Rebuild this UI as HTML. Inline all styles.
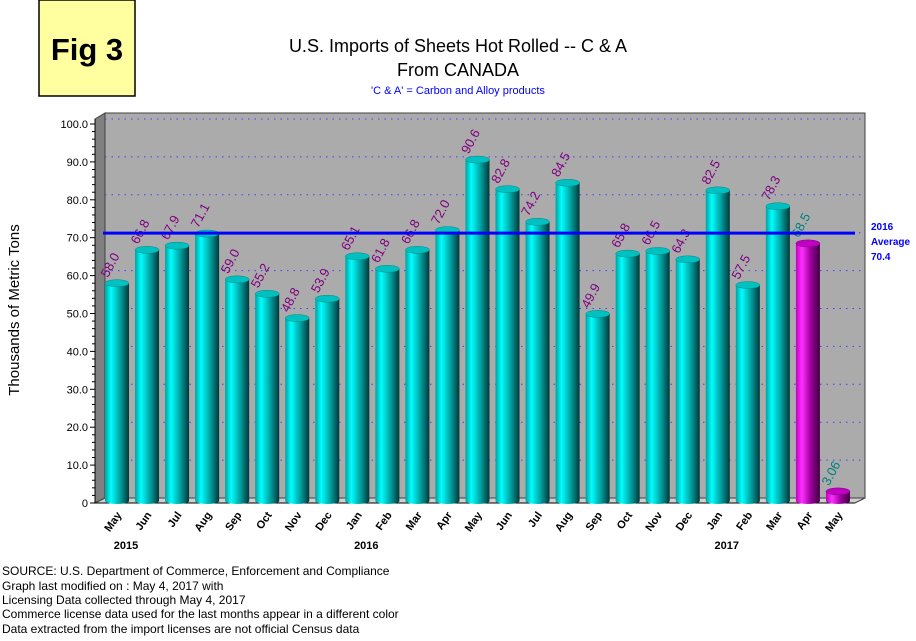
<!DOCTYPE html>
<html><head><meta charset="utf-8"><style>
body{margin:0;background:#fff;width:916px;height:636px;overflow:hidden;font-family:"Liberation Sans",sans-serif}
</style></head><body>
<svg width="916" height="636" xmlns="http://www.w3.org/2000/svg">
<defs>
<linearGradient id="teal" x1="0" x2="1"><stop offset="0" stop-color="#00a0a0"/><stop offset="0.25" stop-color="#00ffff"/><stop offset="0.6" stop-color="#00a8a8"/><stop offset="1" stop-color="#003838"/></linearGradient>
<linearGradient id="mag" x1="0" x2="1"><stop offset="0" stop-color="#c000c0"/><stop offset="0.25" stop-color="#ff30ff"/><stop offset="0.6" stop-color="#a000a0"/><stop offset="1" stop-color="#400040"/></linearGradient>
</defs>
<rect x="39" y="0" width="96" height="96" fill="#ffffa0" stroke="#000" stroke-width="1.5"/>
<text x="87" y="60" font-size="31" font-weight="bold" text-anchor="middle">Fig 3</text>
<text x="458" y="52" font-size="18" text-anchor="middle">U.S. Imports of Sheets Hot Rolled -- C &amp; A</text>
<text x="458" y="76" font-size="18" text-anchor="middle">From CANADA</text>
<text x="458" y="94" font-size="11" fill="#0000ff" text-anchor="middle">'C &amp; A' = Carbon and Alloy products</text>
<text transform="translate(19,310) rotate(-90)" font-size="15" text-anchor="middle">Thousands of Metric Tons</text>
<g id="plot"></g>
<g font-size="12">
<text x="2" y="575">SOURCE: U.S. Department of Commerce, Enforcement and Compliance</text>
<text x="2" y="590">Graph last modified on : May 4, 2017        with</text>
<text x="2" y="604">Licensing Data collected through May 4, 2017</text>
<text x="2" y="618">Commerce license data used for the last months appear in a different color</text>
<text x="2" y="633">Data extracted from the import licenses are not official Census data</text>
</g>
</svg>
<script>
const months=["May","Jun","Jul","Aug","Sep","Oct","Nov","Dec","Jan","Feb","Mar","Apr","May","Jun","Jul","Aug","Sep","Oct","Nov","Dec","Jan","Feb","Mar","Apr","May"];
const values=[58.0,66.8,67.9,71.1,59.0,55.2,48.8,53.9,65.1,61.8,66.8,72.0,90.6,82.8,74.2,84.5,49.9,65.8,66.5,64.3,82.5,57.5,78.3,68.5,3.06];
const valueLabels=["58.0","66.8","67.9","71.1","59.0","55.2","48.8","53.9","65.1","61.8","66.8","72.0","90.6","82.8","74.2","84.5","49.9","65.8","66.5","64.3","82.5","57.5","78.3","68.5","3.06"];
const licenseFlag=[0,0,0,0,0,0,0,0,0,0,0,0,0,0,0,0,0,0,0,0,0,0,0,1,1];
const yTicks=[0,10,20,30,40,50,60,70,80,90,100];
const yTickLabels=["0","10.0","20.0","30.0","40.0","50.0","60.0","70.0","80.0","90.0","100.0"];
const years=[{i:0,t:"2015"},{i:8,t:"2016"},{i:20,t:"2017"}];
const average=70.4;

const NS="http://www.w3.org/2000/svg";
const g=document.getElementById('plot');
const X0=95,Y0=503,PXU=3.79,DX=10,DY=-5,XR=855;
const y=v=>Y0-v*PXU;
const xc=i=>117+i*30.04;
function mk(t,a,p){const e=document.createElementNS(NS,t);for(const k in a)e.setAttribute(k,a[k]);(p||g).appendChild(e);return e;}
let w=mk('polygon',{points:`${X0},${Y0} ${X0+DX},${Y0+DY} ${X0+DX},${y(100)+DY-6} ${X0},${y(100)-6+1}`,fill:'#808080',stroke:'#404040'});


w=mk('rect',{x:X0+DX,y:y(100)+DY-6,width:XR-X0,height:Y0+DY-(y(100)+DY-6),fill:'#ababab',stroke:'#404040'});


w=mk('polygon',{points:`${X0},${Y0} ${X0+DX},${Y0+DY} ${XR+DX},${Y0+DY} ${XR},${Y0}`,fill:'#d0d0d0',stroke:'#404040'});


yTicks.forEach((v,k)=>{
  if(v>0){const l=mk('line',{x1:X0+DX,x2:XR+DX,y1:y(v)+DY,y2:y(v)+DY,stroke:'#4040ff','stroke-dasharray':'1.5 5'});
  
  }
  const tl=mk('line',{x1:X0-5,x2:X0,y1:y(v),y2:y(v),stroke:'#000'});
  
  
  const t=mk('text',{x:X0-7,y:y(v)+4,'font-size':11,'text-anchor':'end'});t.textContent=yTickLabels[k];
  
  
  if(v<100)for(let m=1;m<5;m++){mk('line',{x1:X0-3,x2:X0,y1:y(v+m*2),y2:y(v+m*2),stroke:'#000'});}
});
mk('line',{x1:X0,x2:X0,y1:Y0,y2:y(100)-5,stroke:'#000'});
mk('line',{x1:X0,x2:XR,y1:Y0,y2:Y0,stroke:'#000'});
const bw=24;
values.forEach((v,i)=>{
  const cx=xc(i),top=y(v),bg=document.createElementNS(NS,'g');g.appendChild(bg);
  
  
  const fill=licenseFlag[i]?'url(#mag)':'url(#teal)';
  mk('rect',{x:cx-bw/2,y:top,width:bw,height:Y0-2-top,fill},bg);
  mk('ellipse',{cx,cy:Y0-2,rx:bw/2,ry:3,fill},bg);
  mk('ellipse',{cx,cy:top,rx:bw/2,ry:3.5,fill:licenseFlag[i]?'#c000c0':'#00c0c0',stroke:licenseFlag[i]?'#800080':'#008888','stroke-width':0.5},bg);
  const t=mk('text',{x:cx-9,y:top-5,'font-size':13,fill:licenseFlag[i]?'#008080':'#800080',transform:`rotate(-62 ${cx-9} ${top-5})`});
  t.textContent=valueLabels[i];
  
  
  const m=mk('text',{x:cx+5,y:Y0+12,'font-size':11,'font-weight':'bold','text-anchor':'end',transform:`rotate(-55 ${cx+5} ${Y0+12})`});
  m.textContent=months[i];
  
  
});
years.forEach(o=>{const t=mk('text',{x:xc(o.i)+9,y:549,'font-size':11,'font-weight':'bold','text-anchor':'middle'});t.textContent=o.t;
  
  });
const al=mk('line',{x1:X0+8,x2:XR,y1:y(average)-3,y2:y(average)-3,stroke:'#0000ff','stroke-width':3});


[["2016",230],["Average",245],[String(average),260]].forEach(a=>{const t=mk('text',{x:871,y:a[1],'font-size':10,'font-weight':'bold',fill:'#0000ff'});t.textContent=a[0];
  
  });
</script>
</body></html>
